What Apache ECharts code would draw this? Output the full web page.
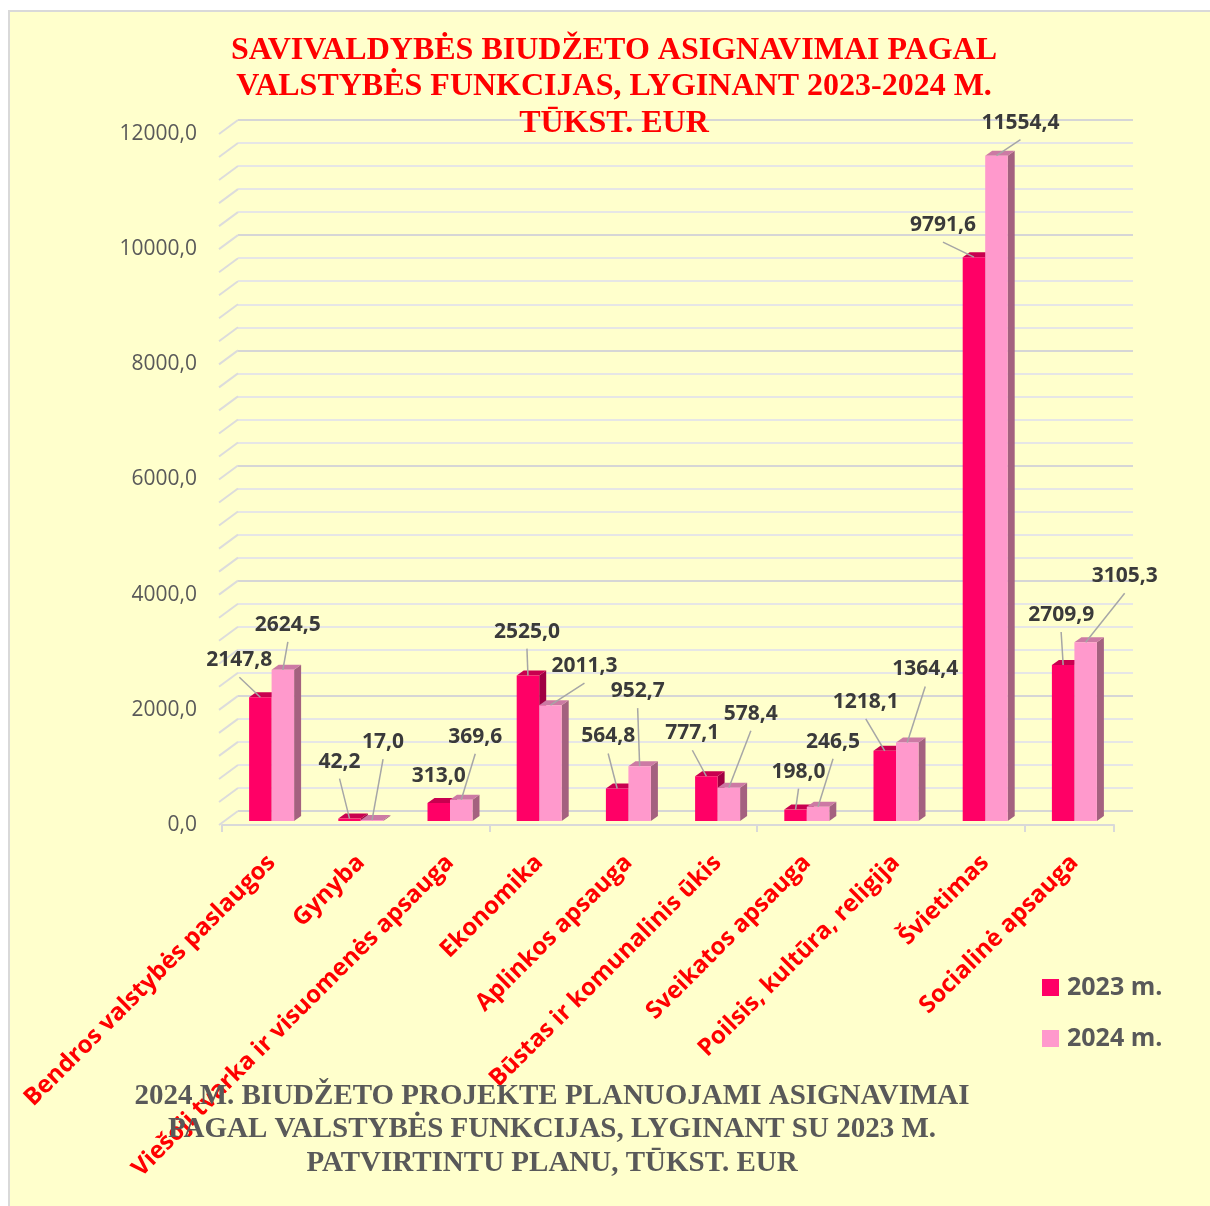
<!DOCTYPE html>
<html><head><meta charset="utf-8">
<script src="https://cdn.jsdelivr.net/npm/echarts@6/dist/echarts.min.js"></script>
<style>
html,body{margin:0;padding:0;background:#fff;}
#bg{position:absolute;left:8px;top:10px;width:1202px;height:1196px;background:#FFFFCC;border-left:2px solid #D9D9D9;border-top:2px solid #D9D9D9;}
#chart{position:absolute;left:0;top:0;width:1210px;height:1206px;}
</style></head><body><div id="bg"></div><div id="chart"></div>
<script>
const categories = [
  'Bendros valstybės paslaugos',
  'Gynyba',
  'Viešoji tvarka ir visuomenės apsauga',
  'Ekonomika',
  'Aplinkos apsauga',
  'Būstas ir komunalinis ūkis',
  'Sveikatos apsauga',
  'Poilsis, kultūra, religija',
  'Švietimas',
  'Socialinė apsauga'
];
const values2023 = [2147.8, 42.2, 313.0, 2525.0, 564.8, 777.1, 198.0, 1218.1, 9791.6, 2709.9];
const values2024 = [2624.5, 17.0, 369.6, 2011.3, 952.7, 578.4, 246.5, 1364.4, 11554.4, 3105.3];
const seriesNames = ['2023 m.', '2024 m.'];
const titleTop = 'SAVIVALDYBĖS BIUDŽETO ASIGNAVIMAI PAGAL\nVALSTYBĖS FUNKCIJAS, LYGINANT 2023-2024 M.\nTŪKST. EUR';
const titleBottom = '2024 M. BIUDŽETO PROJEKTE PLANUOJAMI ASIGNAVIMAI\nPAGAL VALSTYBĖS FUNKCIJAS, LYGINANT SU 2023 M.\nPATVIRTINTU PLANU, TŪKST. EUR';

// layout: label offsets (px) relative to the top of each bar
const labelOffset2023 = [[-21,-37],[-10,-57],[0,-27],[-1,-44],[-9,-52],[-14,-43],[3,-38],[-19,-49],[-31,-32],[-2,-50]];
const labelOffset2024 = [[5,-45],[11,-78],[14,-63],[34,-39],[-2,-75],[22,-74],[15,-65],[18,-73],[24,-33],[39,-66]];

const fmt = v => v.toFixed(1).replace('.', ',');
const BAR_W = 22.5, DX = 7, DY = -5;
const colors = [
  {front:'#FF0066', top:'#C8004F', side:'#A00042'},
  {front:'#FF99CC', top:'#CC7AA4', side:'#A4617F'}
];

function barRender(side) {
  const c = colors[side];
  return function(params, api) {
    const cat = api.value(0), v = api.value(1);
    const base = api.coord([cat, 0]);
    const top = api.coord([cat, v]);
    const x0 = side === 0 ? base[0] - BAR_W : base[0];
    const x1 = x0 + BAR_W;
    const yb = base[1], yt = top[1];
    return {type:'group', children:[
      {type:'polygon', shape:{points:[[x1,yb],[x1+DX,yb+DY],[x1+DX,yt+DY],[x1,yt]]}, style:{fill:c.side}},
      {type:'polygon', shape:{points:[[x0,yt],[x1,yt],[x1+DX,yt+DY],[x0+DX,yt+DY]]}, style:{fill:c.top}},
      {type:'rect', shape:{x:x0, y:yt, width:BAR_W, height:yb-yt}, style:{fill:c.front}}
    ]};
  };
}
function labelRender(side, offsets) {
  return function(params, api) {
    const cat = api.value(0), v = api.value(1);
    const top = api.coord([cat, v]);
    const bx = top[0] + (side === 0 ? -BAR_W/2 : BAR_W/2);
    const by = top[1];
    const off = offsets[params.dataIndex];
    const lx = bx + off[0], ly = by + off[1];
    const children = [{type:'text', style:{text:fmt(v), x:lx, y:ly, align:'center', verticalAlign:'middle',
      font:'bold 21px "Open Sans"', fill:'#3A3A3A'}}];
    const sx = lx, sy = ly + 17;
    if (Math.hypot(bx - sx, by - sy) > 15) {
      children.push({type:'line', shape:{x1:sx, y1:sy, x2:bx, y2:by}, style:{stroke:'#A6A6A6', lineWidth:1.5}});
    }
    return {type:'group', children};
  };
}

const gridTicks = [];
for (let t = 0; t <= 12000; t += 400) gridTicks.push(t);

const chart = echarts.init(document.getElementById('chart'), null, {renderer:'canvas'});
chart.setOption({
  backgroundColor:'transparent',
  animation:false,
  grid:[
    {left:227, top:130, width:892, height:691},   // bars
    {left:222, top:134, width:892, height:691},   // front axis
    {left:238, top:120, width:895, height:691}    // back wall
  ],
  xAxis:[
    {gridIndex:0, type:'category', data:categories, axisLine:{show:false}, axisTick:{show:false},
     axisLabel:{interval:0, rotate:45, margin:38, color:'#FF0000', fontFamily:'Open Sans', fontWeight:'bold', fontSize:24}},
    {gridIndex:1, type:'category', data:categories, axisLine:{lineStyle:{color:'#D9D9D9', width:2}},
     axisTick:{show:true, length:7, lineStyle:{color:'#D9D9D9', width:2}}, axisLabel:{show:false}},
    {gridIndex:2, type:'category', data:categories, show:false}
  ],
  yAxis:[
    {gridIndex:0, type:'value', min:0, max:12000, interval:2000, show:false, splitLine:{show:false}},
    {gridIndex:1, type:'value', min:0, max:12000, interval:2000, axisLine:{show:false}, axisTick:{show:false},
     splitLine:{show:false}, axisLabel:{margin:25, color:'#595959', fontFamily:'Open Sans', fontSize:21, formatter:fmt}},
    {gridIndex:2, type:'value', min:0, max:12000, interval:2000, axisLine:{show:false}, axisTick:{show:false},
     axisLabel:{show:false}, splitLine:{show:true, lineStyle:{color:'#D6D6D6', width:2}},
     minorTick:{show:false, splitNumber:5}, minorSplitLine:{show:true, lineStyle:{color:'#E6E6E6', width:2}}}
  ],
  legend:{data:seriesNames, orient:'vertical', left:1042, top:975, padding:0, icon:'rect', itemWidth:17, itemHeight:17, itemGap:26,
    textStyle:{fontFamily:'Open Sans', fontWeight:'bold', fontSize:25, color:'#595959', lineHeight:25, padding:[0,0,0,3]}},
  graphic:[
    {type:'text', style:{text:titleTop, x:614, y:87, align:'center', verticalAlign:'middle', lineHeight:36.5,
      font:'bold 32px "Liberation Serif"', fill:'#FF0000'}, z:100},
    {type:'text', style:{text:titleBottom, x:552, y:1130, align:'center', verticalAlign:'middle', lineHeight:33.5,
      font:'bold 29px "Liberation Serif"', fill:'#595959'}, z:100}
  ],
  series:[
    {type:'custom', name:'wall', xAxisIndex:2, yAxisIndex:2, silent:true, z:1,
     data:gridTicks.map(t => [0, t]),
     renderItem:function(params, api){
       const cs = params.coordSys;
       const y = api.coord([0, api.value(1)])[1];
       return {type:'line', shape:{x1:cs.x - 19, y1:y + 14, x2:cs.x, y2:y}, style:{stroke:'#DCDCDC', lineWidth:2}};
     }},
    {type:'custom', name:seriesNames[0], xAxisIndex:0, yAxisIndex:0, z:2, itemStyle:{color:colors[0].front},
     data:values2023.map((v,i) => [i, v]), renderItem:barRender(0)},
    {type:'custom', name:seriesNames[1], xAxisIndex:0, yAxisIndex:0, z:2, itemStyle:{color:colors[1].front},
     data:values2024.map((v,i) => [i, v]), renderItem:barRender(1)},
    {type:'custom', name:'lab2023', xAxisIndex:0, yAxisIndex:0, z:5, silent:true,
     data:values2023.map((v,i) => [i, v]), renderItem:labelRender(0, labelOffset2023)},
    {type:'custom', name:'lab2024', xAxisIndex:0, yAxisIndex:0, z:5, silent:true,
     data:values2024.map((v,i) => [i, v]), renderItem:labelRender(1, labelOffset2024)}
  ]
});
</script></body></html>
